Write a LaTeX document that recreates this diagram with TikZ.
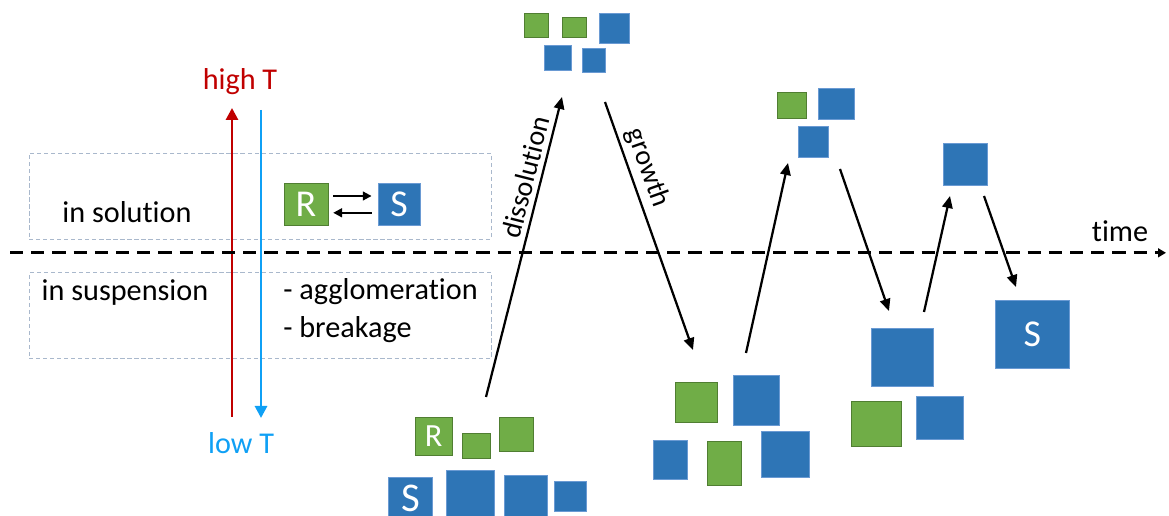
\documentclass[tikz,border=0pt]{standalone}
\usepackage{fontspec}
\setmainfont[Ligatures = NoCommon]{Carlito}
\usepackage{tikz}
\usetikzlibrary{arrows.meta, positioning}

\definecolor{rgreen}{HTML}{70AD47}
\definecolor{rgreenline}{HTML}{507E32}
\definecolor{sblue}{HTML}{2E75B6}
\definecolor{sblueline}{HTML}{6A9AD3}
\definecolor{hotred}{HTML}{C00000}
\definecolor{coldblue}{HTML}{0FA0F5}
\definecolor{zoneline}{HTML}{A9B8CC}

\begin{document}
\begin{tikzpicture}[font = \fontsize{21.5pt}{25pt}\selectfont,
    rbox/.style = {draw = rgreenline, line width = 0.6pt, fill = rgreen, text = white, inner sep = 0pt, font = \fontsize{27pt}{30pt}\selectfont},
    sbox/.style = {draw = sblueline, line width = 0.6pt, fill = sblue, text = white, inner sep = 0pt, font = \fontsize{27pt}{30pt}\selectfont},
    zone/.style = {draw = zoneline, densely dashed, line width = 0.6pt, minimum width = 11.55cm, minimum height = 2.15cm},
    arr/.style = {line width = 1.6pt, -{Triangle[length = 0.3cm, width = 0.26cm]}}]
    \useasboundingbox (0,0) rectangle (29.225,12.9);

    % temperature axis and the two zones
    \node[zone] (sol) at (6.5,8.0) {};
    \node[zone] (susp) at (6.5,5.01) {};
    \node[text = hotred] (high) at (6.0,10.85) {high T};
    \node[text = coldblue] (low) at (6.03,1.83) {low T};
    \coordinate (redlow) at (5.8,2.48);
    \coordinate (redhigh) at (5.8,10.2);
    \coordinate (bluehigh) at (6.525,10.15);
    \coordinate (bluelow) at (6.525,2.45);
    \draw[hotred, line width = 2pt, -{Triangle[length = 0.3cm, width = 0.3cm]}] (redlow) -- (redhigh);
    \draw[coldblue, line width = 2pt, -{Triangle[length = 0.3cm, width = 0.3cm]}] (bluehigh) -- (bluelow);

    \node (insol) at (3.175,7.6) {in solution};
    \node (insusp) at (3.125,5.575) {in suspension};
    \node[anchor = west, inner sep = 0pt] (aggl) at (7.075,5.6) {- agglomeration};
    \node[anchor = west, inner sep = 0pt] (brk) at (7.075,4.65) {- breakage};

    % R <-> S in solution
    \node[rbox, minimum width = 1.1cm, minimum height = 1.05cm] (r) at (7.65,7.8) {R};
    \node[sbox, minimum width = 1.05cm, minimum height = 1.05cm] (s) at (9.975,7.8) {S};
    \draw[line width = 1.4pt, -{Triangle[length = 0.22cm, width = 0.22cm]}, shorten < = 0.12cm, shorten > = 0.15cm]
        ([yshift = 0.2cm]r.east) -- ([yshift = 0.2cm]s.west);
    \draw[line width = 1.4pt, -{Triangle[length = 0.22cm, width = 0.22cm]}, shorten < = 0.15cm, shorten > = 0.12cm]
        ([yshift = -0.22cm]s.west) -- ([yshift = -0.22cm]r.east);

    % time axis
    \coordinate (t0) at (0.25,6.58);
    \coordinate (t1) at (29.15,6.58);
    \draw[line width = 2pt, dash pattern = on 0.33cm off 0.2cm, -{Triangle[length = 0.2cm, width = 0.22cm]}] (t0) -- (t1);
    \node (time) at (28.0,7.125) {time};

    % starting mixture
    \node[rbox, minimum width = 0.93cm, minimum height = 0.93cm, font = \fontsize{23pt}{26pt}\selectfont] (a1) at (10.84,1.99) {R};
    \node[rbox, minimum width = 0.68cm, minimum height = 0.63cm] (a2) at (11.91,1.76) {};
    \node[rbox, minimum width = 0.85cm, minimum height = 0.85cm] (a3) at (12.9,2.03) {};
    \node[sbox, minimum width = 1.08cm, minimum height = 1.05cm, font = \fontsize{29pt}{32pt}\selectfont] (a4) at (10.26,0.45) {S};
    \node[sbox, minimum width = 1.22cm, minimum height = 1.2cm] (a5) at (11.76,0.55) {};
    \node[sbox, minimum width = 1.08cm, minimum height = 1.05cm] (a6) at (13.14,0.48) {};
    \node[sbox, minimum width = 0.8cm, minimum height = 0.75cm] (a7) at (14.25,0.48) {};

    % first heating
    \node[rbox, minimum width = 0.58cm, minimum height = 0.6cm] (b1) at (13.41,12.275) {};
    \node[rbox, minimum width = 0.58cm, minimum height = 0.5cm] (b2) at (14.36,12.225) {};
    \node[sbox, minimum width = 0.75cm, minimum height = 0.75cm] (b3) at (15.35,12.2) {};
    \node[sbox, minimum width = 0.68cm, minimum height = 0.63cm] (b4) at (13.94,11.46) {};
    \node[sbox, minimum width = 0.58cm, minimum height = 0.58cm] (b5) at (14.84,11.39) {};

    % first cooling
    \node[rbox, minimum width = 1.05cm, minimum height = 0.98cm] (c1) at (17.4,2.84) {};
    \node[sbox, minimum width = 1.15cm, minimum height = 1.25cm] (c2) at (18.9,2.9) {};
    \node[sbox, minimum width = 0.85cm, minimum height = 0.98cm] (c3) at (16.75,1.41) {};
    \node[rbox, minimum width = 0.83cm, minimum height = 1.1cm] (c4) at (18.11,1.325) {};
    \node[sbox, minimum width = 1.2cm, minimum height = 1.13cm] (c5) at (19.63,1.54) {};

    % second heating
    \node[rbox, minimum width = 0.73cm, minimum height = 0.65cm] (d1) at (19.79,10.275) {};
    \node[sbox, minimum width = 0.88cm, minimum height = 0.78cm] (d2) at (20.91,10.31) {};
    \node[sbox, minimum width = 0.75cm, minimum height = 0.78cm] (d3) at (20.33,9.36) {};

    % second cooling
    \node[sbox, minimum width = 1.53cm, minimum height = 1.45cm] (e1) at (22.56,3.975) {};
    \node[rbox, minimum width = 1.23cm, minimum height = 1.13cm] (e2) at (21.91,2.31) {};
    \node[sbox, minimum width = 1.18cm, minimum height = 1.08cm] (e3) at (23.49,2.46) {};

    % third heating and final crystal
    \node[sbox, minimum width = 1.1cm, minimum height = 1.05cm] (f1) at (24.13,8.8) {};
    \node[sbox, minimum width = 1.83cm, minimum height = 1.7cm] (g1) at (25.81,4.55) {S};

    % cycle arrows
    \coordinate (p0) at (12.15,2.975);
    \coordinate (p1) at (14.05,10.475);
    \coordinate (p2) at (15.125,10.35);
    \coordinate (p3) at (17.325,4.15);
    \coordinate (p4) at (18.65,4.075);
    \coordinate (p5) at (19.7,8.825);
    \coordinate (p6) at (21.0,8.675);
    \coordinate (p7) at (22.225,5.125);
    \coordinate (p8) at (23.1,5.1);
    \coordinate (p9) at (23.75,8.0);
    \coordinate (p10) at (24.6,8.0);
    \coordinate (p11) at (25.4,5.725);

    \draw[arr] (p0) -- (p1) node[pos = 0.72, sloped, above, font = \fontsize{20pt}{24pt}\selectfont] {dissolution};
    \draw[arr] (p2) -- (p3) node[pos = 0.29, sloped, above, font = \fontsize{20pt}{24pt}\selectfont] {growth};
    \draw[arr] (p4) -- (p5);
    \draw[arr] (p6) -- (p7);
    \draw[arr] (p8) -- (p9);
    \draw[arr] (p10) -- (p11);

\end{tikzpicture}
\end{document}
